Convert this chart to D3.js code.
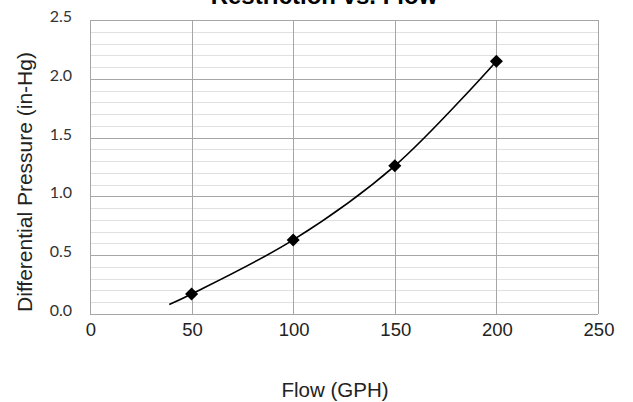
<!DOCTYPE html>
<html>
<head>
<meta charset="utf-8">
<script src="https://cdn.jsdelivr.net/npm/d3@7"></script>
<style>
  body { margin: 0; background: #fff; }
  svg { display: block; }
</style>
</head>
<body>
<svg width="633" height="402"></svg>
<script>
// measured points
const flow = [50, 100, 150, 200];
const pressure = [0.17, 0.63, 1.26, 2.15];
// trendline
const trendFlow = [39, 50, 100, 150, 200];
const trendPressure = [0.08, 0.17, 0.63, 1.26, 2.15];
const xTicks = [0, 50, 100, 150, 200, 250];
const yTicks = [0, 0.5, 1.0, 1.5, 2.0, 2.5];
const yMinor = d3.range(0, 26).map(d => d / 10);

const svg = d3.select('svg');
const plotL = 90, plotR = 598, plotT = 20, plotB = 314;

const x = d3.scaleLinear().domain([0, 250]).range([plotL, plotR]);
const y = d3.scaleLinear().domain([0, 2.5]).range([plotB, plotT]);

// minor horizontal lines
svg.append('g').selectAll('line').data(yMinor).enter().append('line')
  .attr('x1', plotL).attr('x2', plotR)
  .attr('y1', d => Math.round(y(d)) + 0.5).attr('y2', d => Math.round(y(d)) + 0.5)
  .attr('stroke', '#e0e0e0').attr('stroke-width', 1);

// major horizontal lines
svg.append('g').selectAll('line').data(yTicks).enter().append('line')
  .attr('x1', plotL).attr('x2', plotR)
  .attr('y1', d => Math.round(y(d)) + 0.5).attr('y2', d => Math.round(y(d)) + 0.5)
  .attr('stroke', '#a6a6a6').attr('stroke-width', 1);

// vertical lines
svg.append('g').selectAll('line').data(xTicks).enter().append('line')
  .attr('y1', plotT).attr('y2', plotB)
  .attr('x1', d => Math.round(x(d)) + 0.5).attr('x2', d => Math.round(x(d)) + 0.5)
  .attr('stroke', '#a6a6a6').attr('stroke-width', 1);

// trendline
const line = d3.line()
  .x((d, i) => x(trendFlow[i]))
  .y((d, i) => y(trendPressure[i]))
  .curve(d3.curveCatmullRom);
svg.append('path')
  .attr('d', line(trendFlow))
  .attr('fill', 'none').attr('stroke', '#000').attr('stroke-width', 1.6);

// markers
const diamond = d3.symbol().type(d3.symbolSquare).size(85);
svg.append('g').selectAll('path').data(flow).enter().append('path')
  .attr('d', diamond)
  .attr('transform', (d, i) => `translate(${x(d)},${y(pressure[i])}) rotate(45)`)
  .attr('fill', '#000');

// tick labels
svg.append('g').selectAll('text').data(yTicks).enter().append('text')
  .attr('x', 72).attr('y', d => y(d) + 2)
  .attr('text-anchor', 'end')
  .attr('font-family', 'Lato, "Open Sans", sans-serif').attr('font-size', 16)
  .attr('fill', '#333')
  .text(d => d3.format('.1f')(d));

svg.append('g').selectAll('text').data(xTicks).enter().append('text')
  .attr('x', d => x(d) + 1).attr('y', 336)
  .attr('text-anchor', 'middle')
  .attr('font-family', '"Liberation Sans", Arial, sans-serif').attr('font-size', 18.5)
  .attr('fill', '#222')
  .text(d => d);

// titles
svg.append('text')
  .attr('x', 324).attr('y', 4)
  .attr('text-anchor', 'middle')
  .attr('font-family', '"Liberation Sans", Arial, sans-serif')
  .attr('font-weight', 'bold').attr('font-size', 24)
  .text('Restriction vs. Flow');

svg.append('text')
  .attr('x', 335).attr('y', 397)
  .attr('text-anchor', 'middle')
  .attr('font-family', '"Liberation Sans", Arial, sans-serif').attr('font-size', 20.5)
  .attr('fill', '#222')
  .text('Flow (GPH)');

svg.append('text')
  .attr('transform', 'translate(32,182) rotate(-90)')
  .attr('text-anchor', 'middle')
  .attr('font-family', '"Liberation Sans", Arial, sans-serif').attr('font-size', 21)
  .attr('fill', '#222')
  .text('Differential Pressure (in-Hg)');
</script>
</body>
</html>
